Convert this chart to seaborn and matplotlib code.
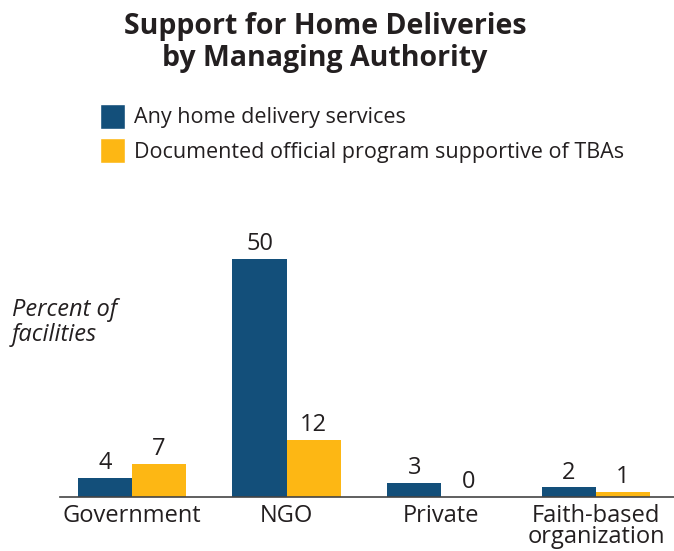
import matplotlib
matplotlib.use("Agg")
import matplotlib.pyplot as plt
import seaborn as sns
import pandas as pd
from matplotlib.patches import Patch

categories = ["Government", "NGO", "Private", "Faith-based\norganization"]
series_names = ["Any home delivery services", "Documented official program supportive of TBAs"]
any_home = [4, 50, 3, 2]
official_tba = [7, 12, 0, 1]
colors = ["#134f7a", "#fdb714"]

df = pd.DataFrame({
    "category": categories * 2,
    "series": [series_names[0]] * 4 + [series_names[1]] * 4,
    "value": any_home + official_tba,
})

sns.set_style("white")
plt.rcParams["font.family"] = ["Open Sans", "DejaVu Sans"]

fig = plt.figure(figsize=(6.74, 5.51), dpi=100)
ax = fig.add_axes([60 / 674, 1 - 497 / 551, 1 - 60 / 674, (497 - 235) / 551])

sns.barplot(data=df, x="category", y="value", hue="series", palette=colors,
            width=0.70, saturation=1, ax=ax, legend=False, edgecolor="none")

ax.set_xlim(-0.465, 3.504)
ax.set_ylim(0, 55)
for c in ax.containers:
    ax.bar_label(c, labels=[f"{v:g}" for v in c.datavalues], padding=2,
                 fontsize=17, color="#231f20")

for s in ["top", "right", "left"]:
    ax.spines[s].set_visible(False)
ax.spines["bottom"].set_color("#444444")
ax.spines["bottom"].set_linewidth(1.2)
ax.set_yticks([])
ax.set_xlabel("")
ax.set_ylabel("")
ax.tick_params(axis="x", length=0, labelsize=17, colors="#231f20", pad=5)
for lbl in ax.get_xticklabels():
    lbl.set_linespacing(0.85)

fig.text(325 / 674, 1 - 12 / 551, "Support for Home Deliveries\nby Managing Authority",
         ha="center", va="top", fontsize=20.5, fontweight="bold", color="#231f20",
         linespacing=1.12)

fig.text(12 / 674, 1 - 298 / 551, "Percent of\nfacilities", ha="left", va="top",
         fontsize=17, style="italic", color="#231f20", linespacing=1.08)

handles = [Patch(facecolor=colors[0]), Patch(facecolor=colors[1])]
fig.legend(handles, series_names, loc="upper left",
           bbox_to_anchor=(91 / 674, 1 - 95 / 551), frameon=False,
           fontsize=15.5, handlelength=1.16, handleheight=1.41, handletextpad=0.45,
           labelspacing=0.45, borderpad=0.4, borderaxespad=0, labelcolor="#231f20")

fig.savefig("out.png", dpi=100)
